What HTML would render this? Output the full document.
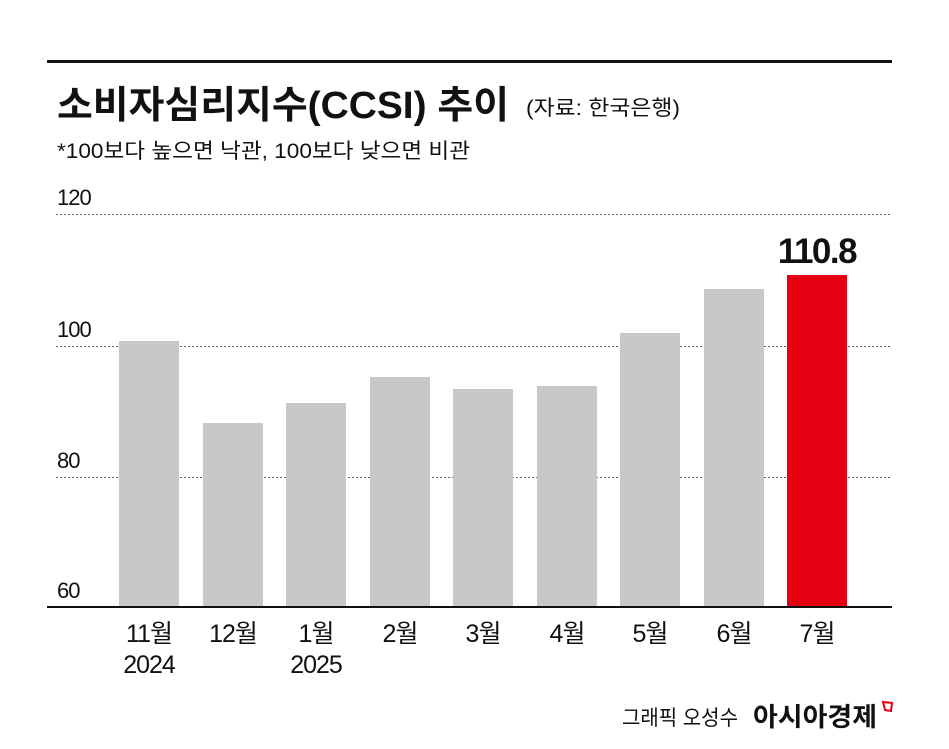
<!DOCTYPE html>
<html><head><meta charset="utf-8"><style>
body{margin:0;background:#fff}
svg{display:block}
text{font-family:"Liberation Sans","Noto Sans CJK KR",sans-serif;fill:#111}
</style></head><body>
<svg width="949" height="749" viewBox="0 0 949 749">
<rect width="949" height="749" fill="#fff"/>
<line x1="47" y1="61.5" x2="892" y2="61.5" stroke="#111" stroke-width="3"/>
<text x="57" y="118" font-size="38" font-weight="bold" textLength="452" lengthAdjust="spacingAndGlyphs">소비자심리지수(CCSI) 추이</text>
<text x="526" y="115" font-size="21" textLength="154" lengthAdjust="spacingAndGlyphs">(자료: 한국은행)</text>
<text x="57" y="158" font-size="21" textLength="413" lengthAdjust="spacingAndGlyphs">*100보다 높으면 낙관, 100보다 낮으면 비관</text>
<g font-size="22" letter-spacing="-1">
<text x="57" y="205">120</text><text x="57" y="337">100</text><text x="57" y="468">80</text><text x="57" y="598">60</text>
</g>
<g stroke="#666" stroke-width="1" stroke-dasharray="2,2">
<line x1="56" y1="214.5" x2="892" y2="214.5"/>
<line x1="56" y1="346.5" x2="892" y2="346.5"/>
<line x1="56" y1="477.5" x2="892" y2="477.5"/>
</g>
<g fill="#c8c8c8">
<rect x="119" y="341" width="60" height="266"/>
<rect x="203" y="423" width="60" height="184"/>
<rect x="286" y="403" width="60" height="204"/>
<rect x="370" y="377" width="60" height="230"/>
<rect x="453" y="389" width="60" height="218"/>
<rect x="537" y="386" width="60" height="221"/>
<rect x="620" y="333" width="60" height="274"/>
<rect x="704" y="289" width="60" height="318"/>
</g>
<rect x="787" y="275" width="60" height="332" fill="#e60012"/>
<text x="817" y="263" font-size="35" font-weight="bold" text-anchor="middle" letter-spacing="-1.5">110.8</text>
<line x1="47" y1="607" x2="892" y2="607" stroke="#111" stroke-width="2"/>
<g font-size="25" text-anchor="middle" letter-spacing="-1">
<text x="149" y="642">11월</text><text x="149" y="673">2024</text>
<text x="233" y="642">12월</text>
<text x="316" y="642">1월</text><text x="316" y="673">2025</text>
<text x="400" y="642">2월</text>
<text x="483" y="642">3월</text>
<text x="567" y="642">4월</text>
<text x="650" y="642">5월</text>
<text x="734" y="642">6월</text>
<text x="817" y="642">7월</text>
</g>
<text x="622" y="725" font-size="21" textLength="116" lengthAdjust="spacingAndGlyphs">그래픽 오성수</text>
<text x="753" y="726" font-size="26" font-weight="bold" textLength="124" lengthAdjust="spacingAndGlyphs">아시아경제</text>
<path d="M883 702 L892 703 L891 711 L885 710 Z" fill="none" stroke="#e60012" stroke-width="2"/>
</svg>
</body></html>
